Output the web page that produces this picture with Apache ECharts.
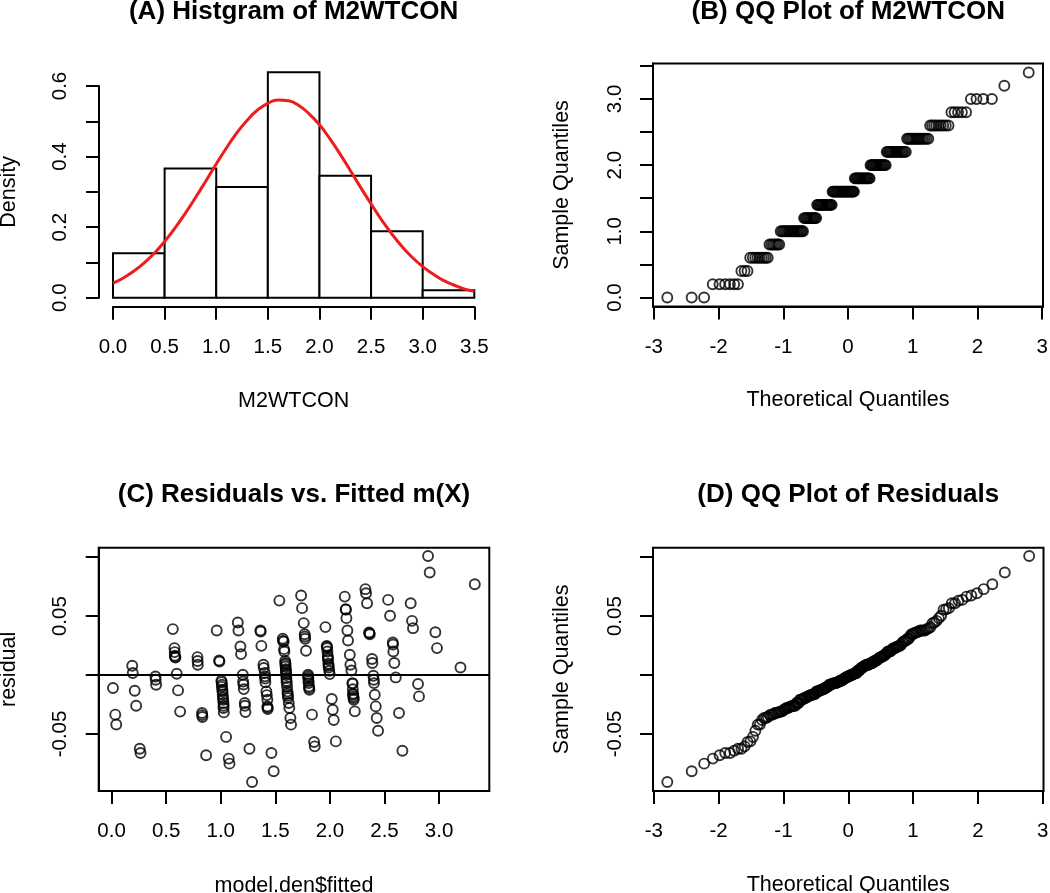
<!DOCTYPE html>
<html><head><meta charset="utf-8">
<script src="https://cdn.jsdelivr.net/npm/echarts@6/dist/echarts.min.js"></script>
<style>html,body{margin:0;padding:0;background:#fff}#c{width:1050px;height:893px}</style>
</head><body><div id="c"></div>
<script>
const FONT = '"Liberation Sans", Arial, Helvetica, sans-serif';

// ---- (A) histogram of M2WTCON ----
const histLeft  = [0.0, 0.5, 1.0, 1.5, 2.0, 2.5, 3.0];
const histRight = [0.5, 1.0, 1.5, 2.0, 2.5, 3.0, 3.5];
const histDensity = [0.1257, 0.3665, 0.3141, 0.6387, 0.3455, 0.1885, 0.0209];
// red density curve
const curveX = [0.0,0.1,0.2,0.3,0.4,0.5,0.6,0.7,0.8,0.9,1.0,1.1,1.2,1.3,1.4,1.5,1.6,1.7,1.8,1.9,2.0,2.1,2.2,2.3,2.4,2.5,2.6,2.7,2.8,2.9,3.0,3.1,3.2,3.3,3.4,3.5];
const curveY = [0.041,0.056,0.075,0.098,0.126,0.159,0.197,0.239,0.284,0.331,0.379,0.425,0.467,0.503,0.532,0.551,0.560,0.558,0.545,0.521,0.490,0.451,0.407,0.360,0.312,0.266,0.221,0.181,0.145,0.114,0.088,0.067,0.049,0.036,0.025,0.018];
const histXTicks = [0,0.5,1,1.5,2,2.5,3,3.5];

// ---- (B) QQ plot of M2WTCON: observed values and how many times each occurs ----
const sampleLevels = [0.0,0.2,0.4,0.6,0.8,1.0,1.2,1.4,1.6,1.8,2.0,2.2,2.4,2.6,2.8,3.0,3.2,3.4];
const sampleCounts = [3,6,3,9,7,19,13,17,26,18,17,18,15,9,5,4,1,1];
const qqXTicks = [-3,-2,-1,0,1,2,3];
const qqBYTicks = [0,0.5,1,1.5,2,2.5,3,3.5];
const qqBYLabels = [0,1,2,3];

// ---- (C) residuals vs fitted ----
const fitted = [
 0.013,0.034,0.043,
 0.189,0.194,0.212,0.225,0.258,0.265,
 0.402,0.408,0.404,
 0.561,0.576,0.579,0.585,0.597,0.609,0.628,0.578,0.582,
 0.787,0.790,0.829,0.832,0.866,0.788,0.830,
 0.963,0.985,0.988,1.006,1.012,1.015,1.018,1.025,1.025,1.028,1.049,1.073,1.080,1.008,1.010,1.016,1.020,1.022,1.026,
 1.156,1.162,1.180,1.186,1.202,1.205,1.211,1.220,1.226,1.263,1.287,1.208,1.222,
 1.363,1.366,1.372,1.391,1.403,1.405,1.409,1.418,1.427,1.427,1.430,1.464,1.485,1.394,1.407,1.422,1.429,
 1.537,1.568,1.577,1.583,1.592,1.594,1.597,1.599,1.601,1.604,1.611,1.613,1.617,1.623,1.628,1.638,1.644,1.570,1.580,1.590,1.593,1.596,1.600,1.603,1.608,1.615,
 1.736,1.745,1.760,1.769,1.771,1.773,1.781,1.800,1.802,1.805,1.808,1.812,1.836,1.855,1.861,1.801,1.804,1.810,
 1.959,1.971,1.974,1.977,1.980,1.983,1.986,1.989,1.994,1.998,2.017,2.026,2.035,2.054,1.972,1.982,1.988,
 2.136,2.145,2.151,2.160,2.166,2.182,2.188,2.197,2.206,2.212,2.215,2.218,2.228,2.146,2.208,2.213,2.217,2.210,
 2.325,2.331,2.340,2.359,2.365,2.386,2.389,2.398,2.402,2.404,2.411,2.420,2.429,2.441,2.362,
 2.533,2.551,2.576,2.581,2.590,2.603,2.633,2.664,2.578,
 2.740,2.752,2.761,2.807,2.816,
 2.899,2.914,2.966,2.981,
 3.196,3.327
];
const resid = [
 -0.0110,-0.0336,-0.0420,
 0.0079,0.0017,-0.0133,-0.0260,-0.0625,-0.0661,
 -0.0012,-0.0082,-0.0040,
 0.0390,0.0229,0.0164,0.0149,0.0011,-0.0130,-0.0310,0.0195,0.0155,
 0.0152,0.0087,-0.0322,-0.0356,-0.0680,0.0120,-0.0340,
 0.0378,0.0124,0.0115,-0.0047,-0.0082,-0.0125,-0.0166,-0.0237,-0.0280,-0.0317,-0.0525,-0.0709,-0.0752,-0.0060,-0.0100,-0.0140,-0.0190,-0.0210,-0.0260,
 0.0446,0.0378,0.0242,0.0178,0.0003,-0.0054,-0.0119,-0.0237,-0.0314,-0.0625,-0.0907,-0.0080,-0.0260,
 0.0378,0.0370,0.0248,0.0087,0.0017,-0.0011,-0.0062,-0.0139,-0.0209,-0.0266,-0.0288,-0.0661,-0.0817,0.0060,-0.0030,-0.0170,-0.0275,
 0.0632,0.0308,0.0285,0.0200,0.0102,0.0073,0.0039,0.0017,-0.0025,-0.0068,-0.0139,-0.0158,-0.0195,-0.0237,-0.0280,-0.0364,-0.0421,0.0290,0.0220,0.0120,0.0090,0.0050,0.0000,-0.0050,-0.0100,-0.0175,
 0.0675,0.0568,0.0441,0.0347,0.0327,0.0308,0.0206,0.0003,-0.0025,-0.0068,-0.0096,-0.0125,-0.0336,-0.0568,-0.0605,-0.0010,-0.0050,-0.0110,
 0.0407,0.0248,0.0229,0.0200,0.0164,0.0130,0.0096,0.0064,0.0036,0.0008,-0.0203,-0.0294,-0.0381,-0.0563,0.0240,0.0145,0.0080,
 0.0666,0.0559,0.0483,0.0378,0.0293,0.0172,0.0087,0.0039,-0.0068,-0.0158,-0.0181,-0.0209,-0.0308,0.0555,-0.0075,-0.0165,-0.0195,-0.0120,
 0.0729,0.0695,0.0610,0.0361,0.0347,0.0136,0.0102,-0.0006,-0.0040,-0.0068,-0.0167,-0.0266,-0.0364,-0.0472,0.0355,
 0.0638,0.0503,0.0276,0.0200,0.0102,-0.0020,-0.0322,-0.0642,0.0260,
 0.0610,0.0460,0.0398,-0.0076,-0.0181,
 0.1011,0.0870,0.0364,0.0229,
 0.0064,0.0771
];
const cXTicks = [0,0.5,1,1.5,2,2.5,3];
const residTicks = [-0.05,0,0.05,0.10];
const residLabels = [-0.05,0.05];

// ---- helpers ----
// standard normal quantile (Acklam) used for theoretical quantiles of a QQ plot
function qnorm(p){
  const a=[-3.969683028665376e+01,2.209460984245205e+02,-2.759285104469687e+02,1.383577518672690e+02,-3.066479806614716e+01,2.506628277459239e+00];
  const b=[-5.447609879822406e+01,1.615858368580409e+02,-1.556989798598866e+02,6.680131188771972e+01,-1.328068155288572e+01];
  const c=[-7.784894002430293e-03,-3.223964580411365e-01,-2.400758277161838e+00,-2.549732539343734e+00,4.374664141464968e+00,2.938163982698783e+00];
  const d=[7.784695709041462e-03,3.224671290700398e-01,2.445134137142996e+00,3.754408661907416e+00];
  const pl=0.02425, ph=1-pl; let q,r;
  if(p<pl){q=Math.sqrt(-2*Math.log(p));return (((((c[0]*q+c[1])*q+c[2])*q+c[3])*q+c[4])*q+c[5])/((((d[0]*q+d[1])*q+d[2])*q+d[3])*q+1);}
  if(p>ph){q=Math.sqrt(-2*Math.log(1-p));return -(((((c[0]*q+c[1])*q+c[2])*q+c[3])*q+c[4])*q+c[5])/((((d[0]*q+d[1])*q+d[2])*q+d[3])*q+1);}
  q=p-0.5;r=q*q;return (((((a[0]*r+a[1])*r+a[2])*r+a[3])*r+a[4])*r+a[5])*q/(((((b[0]*r+b[1])*r+b[2])*r+b[3])*r+b[4])*r+1);
}
function qqPairs(values){
  const s = values.slice().sort((x,y)=>x-y);
  const n = s.length;
  return s.map((v,i)=>[qnorm((i+0.5)/n), v]);
}

const sampleValues = [];
sampleLevels.forEach((v,i)=>{ for(let k=0;k<sampleCounts[i];k++) sampleValues.push(v); });
const qqB = qqPairs(sampleValues);
const scatterC = fitted.map((f,i)=>[f, resid[i]]);
const qqD = qqPairs(resid);
const histData = histLeft.map((l,i)=>[l, histRight[i], histDensity[i]]);
const curveData = curveX.map((x,i)=>[x, curveY[i]]);

// ---- styling ----
const BLACK = '#000';
const LABEL_SIZE = 20.5, NAME_SIZE = 21.5, TITLE_SIZE = 26;
function axis(o){
  const base = {
    type:'value', nameLocation:'middle',
    nameTextStyle:{color:BLACK,fontSize:NAME_SIZE,fontFamily:FONT},
    axisLine:{show:true,onZero:false,lineStyle:{color:BLACK,width:2}},
    axisTick:{show:true,length:13,lineStyle:{color:BLACK,width:2}},
    axisLabel:{color:BLACK,fontSize:LABEL_SIZE,fontFamily:FONT,margin:30},
    splitLine:{show:false}
  };
  const r = Object.assign({}, base, o);
  r.axisTick = Object.assign({}, base.axisTick, o.axisTick||{});
  r.axisLabel = Object.assign({}, base.axisLabel, o.axisLabel||{});
  return r;
}
const pt = {symbol:'circle',symbolSize:10,itemStyle:{color:'rgba(0,0,0,0)',borderColor:BLACK,borderWidth:1.9}};
function title(text, cx, top){
  return {text, left:cx, top, textAlign:'center', padding:0,
    textStyle:{color:BLACK,fontSize:TITLE_SIZE,fontWeight:'bold',fontFamily:FONT}};
}
function grid(o){ return Object.assign({containLabel:false, outerBoundsMode:'none'}, o); }

const chart = echarts.init(document.getElementById('c'), null, {renderer:'canvas'});
chart.setOption({
  animation:false,
  backgroundColor:'#fff',
  title:[
    title('(A) Histgram of M2WTCON', 293.6, -1),
    title('(B) QQ Plot of M2WTCON', 848.3, -1),
    title('(C) Residuals vs. Fitted m(X)', 294, 482),
    title('(D) QQ Plot of Residuals', 848.3, 482)
  ],
  grid:[
    grid({left:113, top:86, width:361.3, height:211.7, show:false}),
    grid({left:653, top:63.5, width:390, height:243, show:true, borderColor:BLACK, borderWidth:2}),
    grid({left:98.7, top:547.7, width:390.6, height:243.3, show:true, borderColor:BLACK, borderWidth:2}),
    grid({left:653, top:547.7, width:390.5, height:243.3, show:true, borderColor:BLACK, borderWidth:2})
  ],
  xAxis:[
    axis({gridIndex:0, min:0, max:3.5, interval:0.5, offset:9, name:'M2WTCON', nameGap:83,
      axisLabel:{formatter:v=>v.toFixed(1)}}),
    axis({gridIndex:1, min:-3.013, max:3.013, name:'Theoretical Quantiles', nameGap:83,
      axisTick:{customValues:qqXTicks}, axisLabel:{customValues:qqXTicks, formatter:v=>String(Math.round(v))}}),
    axis({gridIndex:2, min:-0.118, max:3.46, name:'model.den$fitted', nameGap:84,
      axisTick:{customValues:cXTicks}, axisLabel:{customValues:cXTicks, formatter:v=>v.toFixed(1)}}),
    axis({gridIndex:3, min:-3.013, max:3.013, name:'Theoretical Quantiles', nameGap:83,
      axisTick:{customValues:qqXTicks}, axisLabel:{customValues:qqXTicks, formatter:v=>String(Math.round(v))}})
  ],
  yAxis:[
    axis({gridIndex:0, min:0, max:0.6, interval:0.1, offset:14, name:'Density', nameGap:79,
      axisLabel:{rotate:90, margin:28, formatter:v=>(Math.round(v*10)%2===0? v.toFixed(1):'')}}),
    axis({gridIndex:1, min:-0.136, max:3.536, name:'Sample Quantiles', nameGap:80,
      axisTick:{customValues:qqBYTicks}, axisLabel:{rotate:90, margin:27, customValues:qqBYLabels, formatter:v=>v.toFixed(1)}}),
    axis({gridIndex:2, min:-0.0984, max:0.1081, name:'residual', nameGap:79,
      axisTick:{customValues:residTicks}, axisLabel:{rotate:90, margin:28, customValues:residLabels, formatter:v=>v.toFixed(2)}}),
    axis({gridIndex:3, min:-0.0984, max:0.1081, name:'Sample Quantiles', nameGap:80,
      axisTick:{customValues:residTicks}, axisLabel:{rotate:90, margin:27, customValues:residLabels, formatter:v=>v.toFixed(2)}})
  ],
  series:[
    {type:'custom', xAxisIndex:0, yAxisIndex:0, data:histData, clip:false,
      renderItem:(params, api)=>{
        const p0 = api.coord([api.value(0), 0]);
        const p1 = api.coord([api.value(1), api.value(2)]);
        return {type:'rect', shape:{x:p0[0], y:p1[1], width:p1[0]-p0[0], height:p0[1]-p1[1]},
          style:{fill:'#fff', stroke:BLACK, lineWidth:2}};
      }},
    {type:'line', xAxisIndex:0, yAxisIndex:0, data:curveData, smooth:true, symbol:'none', clip:false, z:5,
      lineStyle:{color:'#ee1c1c', width:3}},
    Object.assign({type:'scatter', xAxisIndex:1, yAxisIndex:1, data:qqB}, pt),
    Object.assign({type:'scatter', xAxisIndex:2, yAxisIndex:2, data:scatterC,
      markLine:{silent:true, symbol:['none','none'], label:{show:false},
        lineStyle:{color:BLACK, width:2, type:'solid'}, data:[{yAxis:0}]}}, pt),
    Object.assign({type:'scatter', xAxisIndex:3, yAxisIndex:3, data:qqD}, pt)
  ]
});
</script></body></html>
